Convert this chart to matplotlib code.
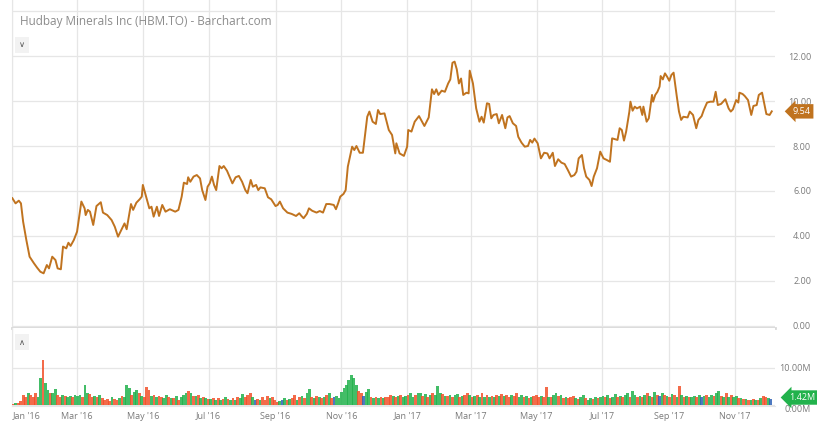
import matplotlib.pyplot as plt
import matplotlib.dates as mdates
import matplotlib.transforms as mtransforms
import numpy as np

plt.rcParams['font.family'] = ['Open Sans', 'DejaVu Sans']

# price line: days since 2016-01-01 and close (CAD)
price_days = [0, 3, 6, 8, 10, 13, 16, 20, 23, 26, 29, 32, 34, 37, 40, 42, 45, 47, 50, 52,
              54, 57, 60, 64, 67, 68, 70, 72, 75, 78, 82, 84, 88, 92, 95, 98, 101, 104, 106, 110,
              112, 115, 118, 120, 121, 124, 127, 129, 131, 134, 136, 139, 142, 146, 151, 154, 157, 159, 162, 163,
              165, 168, 171, 174, 176, 179, 181, 183, 185, 187, 189, 192, 194, 196, 199, 202, 204, 207, 210, 213,
              216, 218, 221, 223, 226, 228, 230, 234, 237, 240, 244, 246, 248, 251, 255, 259, 263, 266, 268, 270,
              273, 275, 278, 282, 285, 288, 291, 294, 298, 300, 302, 304, 307, 309, 311, 315, 317, 319, 322, 325,
              329, 331, 334, 337, 339, 341, 345, 349, 352, 355, 356, 359, 363, 366, 367, 370, 373, 377, 382, 386,
              389, 391, 393, 395, 398, 401, 404, 406, 408, 410, 412, 414, 416, 418, 421, 423, 424, 426, 427, 430,
              433, 435, 437, 440, 442, 444, 446, 449, 451, 454, 457, 459, 461, 464, 467, 469, 472, 475, 478, 480,
              482, 484, 487, 490, 493, 496, 498, 501, 503, 506, 509, 512, 515, 518, 521, 523, 525, 528, 530, 532,
              535, 537, 539, 542, 545, 548, 551, 554, 556, 559, 561, 563, 565, 567, 569, 572, 573, 575, 577, 579,
              582, 584, 585, 588, 590, 593, 594, 596, 598, 600, 601, 603, 605, 607, 609, 611, 613, 616, 618, 620,
              622, 626, 628, 631, 634, 636, 639, 641, 644, 647, 650, 652, 654, 657, 661, 664, 666, 668, 671, 673,
              674, 677, 679, 682, 685, 687, 690, 692, 695, 697, 699, 702, 704]
price_values = [5.68, 5.45, 5.57, 5.45, 4.64, 3.82, 3.08, 2.79, 2.59, 2.41, 2.34, 2.71, 2.56, 3.08, 2.93, 2.56, 2.52, 3.53, 3.45, 3.70,
                3.56, 3.82, 4.19, 5.53, 5.23, 4.93, 5.16, 5.08, 4.49, 5.33, 5.50, 5.04, 4.93, 4.71, 4.41, 3.97, 4.27, 4.56, 4.30, 5.42,
                5.16, 5.48, 5.63, 5.75, 6.27, 5.75, 5.23, 5.30, 4.86, 5.30, 4.89, 5.38, 5.08, 5.19, 5.08, 5.16, 5.75, 6.37, 6.31, 6.61,
                6.41, 6.64, 6.71, 6.56, 6.04, 5.60, 6.19, 6.34, 6.64, 6.27, 6.04, 7.11, 7.01, 7.11, 6.90, 6.56, 6.34, 6.61, 6.67, 6.41,
                6.04, 5.90, 6.49, 6.19, 6.27, 6.04, 6.16, 6.12, 5.72, 5.63, 5.33, 5.38, 5.53, 5.23, 5.04, 4.98, 4.89, 5.01, 4.89, 4.79,
                4.98, 5.23, 5.12, 5.04, 5.11, 5.04, 5.42, 5.42, 5.38, 5.19, 5.45, 5.75, 5.87, 6.04, 7.08, 7.97, 7.82, 8.00, 7.70, 7.70,
                9.30, 9.53, 9.08, 8.98, 9.60, 9.42, 9.45, 8.71, 8.49, 7.67, 8.12, 7.67, 7.56, 7.97, 8.71, 8.64, 9.08, 9.33, 8.89, 9.27,
                10.52, 10.31, 10.52, 10.27, 10.46, 10.41, 10.78, 10.96, 11.70, 11.75, 11.41, 10.78, 11.00, 10.27, 10.37, 10.34, 11.35, 10.96, 10.78, 9.67,
                9.08, 9.30, 9.04, 9.90, 9.87, 9.23, 9.38, 9.42, 9.01, 9.38, 8.79, 9.27, 9.33, 9.01, 8.89, 8.41, 8.15, 7.97, 8.00, 8.27,
                8.15, 8.33, 8.12, 7.45, 7.70, 7.67, 7.45, 7.70, 7.11, 7.41, 7.26, 7.20, 6.93, 6.64, 6.71, 6.86, 7.45, 7.60, 7.01, 6.64,
                6.49, 6.22, 6.64, 7.01, 7.75, 7.45, 7.38, 7.30, 8.34, 8.30, 8.27, 8.79, 8.71, 8.24, 8.64, 9.53, 9.97, 9.57, 9.75, 9.67,
                9.75, 9.38, 9.75, 9.08, 9.23, 10.27, 9.97, 10.27, 10.41, 10.64, 11.11, 10.96, 11.23, 11.08, 10.90, 11.16, 11.26, 10.19, 9.53, 9.16,
                9.30, 9.27, 9.53, 9.38, 8.79, 9.16, 9.33, 9.60, 9.93, 9.97, 9.97, 10.41, 9.82, 9.87, 10.08, 9.67, 9.53, 9.63, 10.04, 9.93,
                10.37, 10.31, 10.22, 10.04, 9.38, 9.78, 9.82, 10.27, 10.37, 9.90, 9.42, 9.38, 9.54]

# volume (millions), g = up day, r = down day, b = unchanged
vol_values = [0.4, 0.6, 0.5, 1.0,
              2.7, 2.25, 3.15, 2.7, 2.25, 3.15, 2.25, 7.2,
              12.15, 5.85, 4.05, 3.33, 3.15, 4.23, 2.7, 2.25,
              2.7, 2.43, 2.07, 2.43, 2.25, 2.7, 2.43, 2.7,
              2.25, 5.4, 3.33, 2.97, 2.25, 2.43, 2.07, 2.7,
              1.8, 1.35, 1.53, 1.17, 2.07, 1.53, 1.35, 1.8,
              2.43, 2.25, 5.4, 4.5, 2.7, 3.6, 4.05, 3.33,
              2.43, 2.07, 4.77, 4.05, 2.43, 2.7, 2.07, 2.43,
              2.25, 1.8, 2.7, 2.25, 1.8, 1.8, 2.43, 1.35,
              2.07, 2.7, 3.15, 3.87, 3.15, 2.43, 2.43, 2.7,
              1.8, 2.25, 1.8, 1.53, 1.53, 1.8, 1.35, 1.8,
              1.35, 1.53, 2.25, 1.53, 1.35, 1.8, 1.35, 2.07,
              1.8, 2.97, 2.25, 2.7, 3.33, 2.25, 1.35, 1.53,
              1.35, 2.25, 1.35, 2.43, 1.8, 2.25, 1.35, 0.9,
              1.17, 1.35, 1.8, 1.35, 1.53, 1.8, 2.7, 1.35,
              2.25, 2.43, 1.8, 3.15, 4.23, 2.25, 1.8, 2.43,
              2.07, 1.8, 2.25, 2.7, 3.15, 1.8, 2.25, 2.43,
              1.8, 3.6, 4.5, 5.4, 6.75, 8.1, 7.2, 5.4,
              3.87, 3.33, 2.43, 3.6, 4.23, 2.25, 1.8, 2.07,
              1.8, 2.25, 1.8, 2.25, 2.07, 2.7, 2.43, 2.25,
              2.43, 2.7,
              2.25, 2.43, 2.7, 3.15, 2.25, 2.7, 3.15, 3.33,
              2.43, 2.97, 2.25, 2.7, 3.33, 2.7, 5.13, 3.15,
              2.97, 2.43, 2.43, 2.7, 2.25, 2.7, 2.97, 2.25,
              2.43, 2.7, 3.33, 2.7, 2.25, 2.43, 2.7, 2.25,
              3.15, 2.25, 2.7, 2.25, 2.43, 2.07, 2.7, 2.43,
              2.97, 2.43, 2.7, 2.25, 2.7, 2.43, 3.15, 2.07,
              2.7, 2.07, 2.43, 1.8, 2.25, 2.43, 2.7, 2.25,
              2.43, 2.25, 4.95, 2.25, 2.07, 2.7, 3.15, 2.43,
              2.7, 1.8, 2.07, 1.8, 2.25, 2.43, 1.8, 1.53,
              2.25, 2.7, 1.8, 1.35, 1.8, 1.53, 2.25, 1.8,
              2.07, 2.43, 2.07, 2.7, 1.8, 2.25, 2.97, 2.25,
              2.43, 2.07, 2.7, 3.15, 2.25, 3.87, 2.7, 2.25,
              2.43, 2.07, 2.7, 3.15, 2.43, 2.25, 3.6, 2.7,
              2.43, 3.15, 2.7, 2.43, 2.25, 2.97, 2.7, 2.25,
              5.13, 2.7, 2.25, 2.43, 2.07, 2.25, 2.43, 2.25,
              2.7, 2.25, 2.43, 2.7, 2.25, 2.7, 2.43, 3.33,
              3.87, 2.43, 2.25, 3.15, 2.25, 2.7, 2.07, 2.43,
              1.8, 1.8, 1.53, 1.53, 1.35, 1.35, 1.53, 1.35,
              1.35, 1.8, 2.43, 2.07, 1.8, 1.53]
vol_colors = ("rgrr" "rrgrrrgg" "rggrggrr" "grggrggg" "rggrrgrg" "rrrrgrrg" "rgggrggr"
              "grrrgrgr" "rggrgrgr" "gggrgrgr" "grgrgrgr" "grgrgrgr" "ggrrrgbr" "grrrgrrr"
              "gbgrgrrg" "rgrggrgr" "grgrgrbg" "gggggggg" "rrbggrgr" "grgrrrgr" "gr"
              "ggrggrgg" "rgrgrggg" "rgrgrggr" "grrgrgrg" "rgrgrgrg" "rgrrgrrg" "grgrgrrr"
              "grrgrggr" "grgrrrgr" "ggrggrgr" "ggrgrggr" "grggrggr" "grgrgrgr" "bgrgrgrg"
              "rgrgrggr" "gbgrggrg" "grgrgrgg" "rgrgrgrg" "rgrrgb")

month_ticks = ['2016-01-01', '2016-03-01', '2016-05-01', '2016-07-01', '2016-09-01', '2016-11-01',
               '2017-01-01', '2017-03-01', '2017-05-01', '2017-07-01', '2017-09-01', '2017-11-01']
month_labels = ["Jan '16", "Mar '16", "May '16", "Jul '16", "Sep '16", "Nov '16",
                "Jan '17", "Mar '17", "May '17", "Jul '17", "Sep '17", "Nov '17"]
price_ticks = [0, 2, 4, 6, 8, 10, 12]
last_price = 9.54
last_volume = 1.42

line_col = '#c0731f'
grid_col = '#e6e6e6'
text_col = '#7a7a7a'
bar_cols = {'g': '#22b24c', 'r': '#f2512a', 'b': '#2f62b5'}

x0 = mdates.date2num(np.datetime64('2016-01-01'))
price_x = x0 + np.array(price_days, dtype=float)
vol_x = x0 + np.linspace(1, 703, len(vol_values))
tick_x = mdates.date2num(np.array(month_ticks, dtype='datetime64[D]'))
xlim = (x0 - 0.3, x0 + 707)

W, H = 817, 423
fig = plt.figure(figsize=(W / 100, H / 100), dpi=100)
ax = fig.add_axes([12 / W, 1 - 328 / H, 763 / W, 328 / H])
axv = fig.add_axes([12 / W, 1 - 406 / H, 763 / W, 78 / H])

# price panel
ax.plot(price_x, price_values, color=line_col, lw=1.4, solid_joinstyle='round', zorder=3)
ax.set_xlim(xlim)
ax.set_ylim(-0.09, 14.49)
ax.set_xticks(tick_x)
ax.tick_params(axis='x', length=0, labelbottom=False)
ax.yaxis.tick_right()
ax.set_yticks(price_ticks, ['%.2f' % v for v in price_ticks], ha='right')
ax.tick_params(axis='y', length=0, pad=26, labelsize=6.5, labelcolor=text_col)
ax.grid(True, color=grid_col, lw=0.9)
ax.axhline(14, color=grid_col, lw=0.9)
ax.set_axisbelow(True)
for s in ['top', 'right']:
    ax.spines[s].set_visible(False)
ax.spines['left'].set_color(grid_col)
ax.spines['bottom'].set_color('#d9d9d9')
ax.spines['bottom'].set_linewidth(2)

tr = mtransforms.blended_transform_factory(ax.transAxes, ax.transData)
ax.text(1.035, last_price, '%.2f' % last_price, transform=tr, ha='center', va='center',
        fontsize=6.5, color='white', clip_on=False, zorder=5,
        bbox=dict(boxstyle='larrow,pad=0.3', fc=line_col, ec='none'))

ax.text(0.0131, 0.863, r'$\vee$', transform=ax.transAxes, ha='center', va='center',
        fontsize=6, color='#555555',
        bbox=dict(boxstyle='square,pad=0.45', fc='#f2f2f2', ec='none'))

# volume panel
axv.bar(vol_x, vol_values, width=2.6, color=[bar_cols[c] for c in vol_colors],
        alpha=0.85, linewidth=0, align='center', zorder=3)
axv.set_xlim(xlim)
axv.set_ylim(-0.27, 20.8)
axv.set_xticks(tick_x, month_labels)
axv.tick_params(axis='x', length=0, pad=4, labelsize=6.5, labelcolor=text_col)
axv.get_xticklabels()[0].set_ha('left')
axv.yaxis.tick_right()
axv.set_yticks([0, 10], ['0.00M', '10.00M'], ha='right')
axv.tick_params(axis='y', length=0, pad=26, labelsize=6.5, labelcolor=text_col)
axv.get_yticklabels()[0].set_va('top')
axv.grid(True, color=grid_col, lw=0.9)
axv.set_axisbelow(True)
axv.spines['right'].set_visible(False)
axv.spines['top'].set_visible(False)
axv.spines['left'].set_color(grid_col)
axv.spines['bottom'].set_color(grid_col)

trv = mtransforms.blended_transform_factory(axv.transAxes, axv.transData)
axv.text(1.035, last_volume + 0.6, '%.2fM' % last_volume, transform=trv, ha='center', va='center',
         fontsize=6.5, color='white', clip_on=False, zorder=5,
         bbox=dict(boxstyle='larrow,pad=0.3', fc='#22b24c', ec='none'))

axv.text(0.0131, 0.82, r'$\wedge$', transform=axv.transAxes, ha='center', va='center',
         fontsize=6, color='#555555',
         bbox=dict(boxstyle='square,pad=0.45', fc='#f2f2f2', ec='none'))

fig.text(20 / W, 1 - 21 / H, 'Hudbay Minerals Inc (HBM.TO) - Barchart.com',
         fontsize=8.5, color='#8c8c8c', va='center')

fig.savefig('out.png', dpi=100)
